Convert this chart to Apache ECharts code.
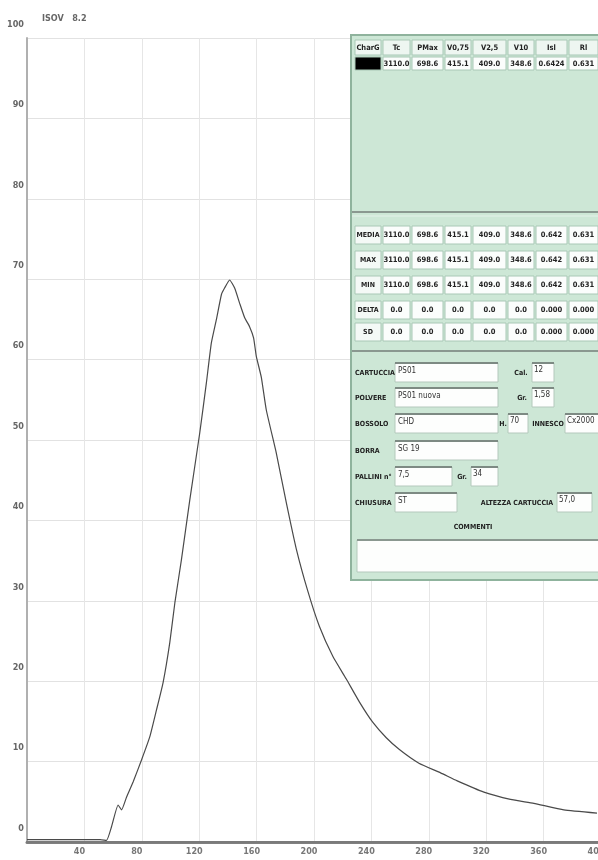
<!DOCTYPE html>
<html>
<head>
<meta charset="utf-8">
<script src="https://cdn.jsdelivr.net/npm/echarts@6/dist/echarts.min.js"></script>
<style>
  html, body { margin: 0; padding: 0; background: #fff; }
  #chart { width: 598px; height: 860px; }
</style>
</head>
<body>
<div id="chart"></div>
<script>
// pressure trace (x in axis units, y in axis units 0-100)
const timeVals = [0, 16, 37, 51, 55.4, 58.9, 63.5, 65.9, 69.4, 74.0, 79.8, 85.6, 90.2, 94.8, 99.5, 103.0, 107.6, 113.4, 120.4, 125.0, 128.5, 132.0, 135.5, 137.7, 141.2, 144.7, 148.2, 151.7, 155.1, 157.9, 159.8, 163.3, 166.8, 173.7, 180.7, 187.6, 195.7, 203.8, 213.1, 222.4, 231.7, 240.9, 250.2, 259.5, 273.1, 288.2, 299.8, 318.4, 336.9, 353.2, 374.1, 397.2];
const pressure = [0.3, 0.3, 0.3, 0.3, 0.2, 1.9, 4.6, 4.0, 5.6, 7.5, 10.2, 13.1, 16.4, 19.8, 24.8, 29.7, 35.1, 42.5, 50.9, 57.1, 62.1, 65.0, 68.1, 68.9, 69.9, 68.9, 67.0, 65.2, 64.1, 62.7, 60.4, 57.8, 53.7, 48.4, 42.2, 36.5, 31.2, 26.8, 23.1, 20.3, 17.4, 14.9, 13.0, 11.5, 9.8, 8.6, 7.6, 6.2, 5.3, 4.8, 4.0, 3.6];

const yTickLabels = ['0', '10', '20', '30', '40', '50', '60', '70', '80', '90', '100'];
const titleText = 'ISOV   8.2';

// results panel
const headers = ['CharG', 'Tc', 'PMax', 'V0,75', 'V2,5', 'V10', 'Isl', 'Rl'];
const shotRow = ['', '3110.0', '698.6', '415.1', '409.0', '348.6', '0.6424', '0.631'];
const statLabels = ['MEDIA', 'MAX', 'MIN', 'DELTA', 'SD'];
const statRows = [
  ['3110.0', '698.6', '415.1', '409.0', '348.6', '0.642', '0.631'],
  ['3110.0', '698.6', '415.1', '409.0', '348.6', '0.642', '0.631'],
  ['3110.0', '698.6', '415.1', '409.0', '348.6', '0.642', '0.631'],
  ['0.0', '0.0', '0.0', '0.0', '0.0', '0.000', '0.000'],
  ['0.0', '0.0', '0.0', '0.0', '0.0', '0.000', '0.000']
];
const formLabels = ['CARTUCCIA', 'POLVERE', 'BOSSOLO', 'BORRA', 'PALLINI n°', 'CHIUSURA'];
const formValues = ['PS01', 'PS01 nuova', 'CHD', 'SG 19', '7,5', 'ST'];
const sideLabels = ['Cal.', 'Gr.', 'H.', 'INNESCO', 'Gr.', 'ALTEZZA CARTUCCIA'];
const sideValues = ['12', '1,58', '70', 'Cx2000', '34', '57,0'];
const commentLabel = 'COMMENTI';

// layout of the panel
const FONT = '"Liberation Sans Narrow", "DejaVu Sans Condensed", sans-serif';
const colX = [355, 383, 412, 445, 473, 508, 536, 569];
const colW = [26, 27, 31, 26, 33, 26, 31, 29];
const statTop = [226, 251, 276, 301, 323];
const formRowY = [373, 398, 424, 451, 477, 503];
const formBoxW = [103, 103, 103, 103, 57, 62];
// [row, labelX, boxX, boxW]
const sideLayout = [[0, 521, 532, 22], [1, 522, 532, 22], [2, 503, 508, 20], [2, 548, 565, 35], [4, 462, 471, 27], [5, 517, 557, 35]];

function txt(x, y, s, opt) {
  opt = opt || {};
  return {
    type: 'text', z: 120,
    style: {
      x: x, y: y, text: s,
      fill: opt.fill || '#222',
      fontSize: opt.size || 8,
      fontWeight: opt.weight || 'bold',
      fontFamily: FONT,
      align: opt.align || 'center',
      verticalAlign: 'middle'
    }
  };
}
function box(x, y, w, h, fill, stroke, lw) {
  return {
    type: 'rect', z: 110,
    shape: { x: x, y: y, width: w, height: h },
    style: { fill: fill, stroke: stroke || '#a9c8b6', lineWidth: lw || 1 }
  };
}
function hline(x1, x2, y, color, w) {
  return { type: 'line', z: 115, shape: { x1: x1, y1: y, x2: x2, y2: y }, style: { stroke: color, lineWidth: w } };
}

const gfx = [];
gfx.push(txt(42, 19, titleText, { align: 'left', size: 9, fill: '#666' }));
gfx.push(box(351, 35, 250, 545, '#cde7d6', '#8fb39d', 2));

headers.forEach((h, i) => {
  gfx.push(box(colX[i], 40, colW[i], 15, '#eef6f1'));
  gfx.push(txt(colX[i] + colW[i] / 2, 48, h, { size: 7.5 }));
});
shotRow.forEach((v, i) => {
  gfx.push(box(colX[i], 57, colW[i], 13, i === 0 ? '#000' : '#fbfdfc'));
  if (v) gfx.push(txt(colX[i] + colW[i] / 2, 64, v, { size: 7.5 }));
});

gfx.push(hline(352, 600, 212, '#8a9890', 2));
gfx.push(hline(352, 600, 216, '#e4f1e9', 1));

statLabels.forEach((lab, r) => {
  const y = statTop[r];
  gfx.push(box(colX[0], y, colW[0], 18, '#f4f9f6'));
  gfx.push(txt(colX[0] + colW[0] / 2, y + 9, lab, { size: 7 }));
  statRows[r].forEach((v, i) => {
    gfx.push(box(colX[i + 1], y, colW[i + 1], 18, '#fbfdfc'));
    gfx.push(txt(colX[i + 1] + colW[i + 1] / 2, y + 9, v, { size: 7.5 }));
  });
});

gfx.push(hline(352, 600, 351, '#8a9890', 2));

formLabels.forEach((lab, r) => {
  const y = formRowY[r];
  gfx.push(txt(355, y, lab, { align: 'left', size: 7 }));
  gfx.push(box(395, y - 10, formBoxW[r], 19, '#fdfefd', '#b4c9bc'));
  gfx.push(hline(395, 395 + formBoxW[r], y - 10, '#7d8a83', 2));
  gfx.push(txt(398, y - 2, formValues[r], { align: 'left', weight: 'normal', fill: '#333' }));
});
sideLabels.forEach((lab, k) => {
  const L = sideLayout[k];
  const y = formRowY[L[0]];
  gfx.push(txt(L[1], y, lab, { size: 7 }));
  gfx.push(box(L[2], y - 10, L[3], 19, '#fdfefd', '#b4c9bc'));
  gfx.push(hline(L[2], L[2] + L[3], y - 10, '#7d8a83', 2));
  gfx.push(txt(L[2] + 2, y - 3, sideValues[k], { align: 'left', weight: 'normal', fill: '#333' }));
});

gfx.push(txt(473, 527, commentLabel, { size: 7 }));
gfx.push(box(357, 540, 244, 32, '#fdfefd', '#b4c9bc'));
gfx.push(hline(357, 600, 540, '#8a9890', 2));

const chart = echarts.init(document.getElementById('chart'), null, { renderer: 'canvas' });
chart.setOption({
  backgroundColor: '#fff',
  animation: false,
  grid: { left: 27, right: -3, top: 38, bottom: 18, outerBoundsMode: 'none' },
  xAxis: [{
    type: 'value', min: 0, max: 400, interval: 40,
    axisLine: { show: true, onZero: false, lineStyle: { color: '#808080', width: 3 } },
    axisTick: { show: false },
    axisLabel: {
      margin: 5, fontSize: 9, fontWeight: 'bold', fontFamily: FONT, color: '#777',
      padding: [0, 10, 0, 0], showMinLabel: false
    },
    splitLine: { show: true, lineStyle: { color: '#e6e6e6', width: 1 } }
  }, {
    type: 'value', position: 'top', min: 0, max: 400,
    axisLine: { show: true, lineStyle: { color: '#7a7a7a', width: 2 } },
    axisTick: { show: false }, axisLabel: { show: false }, splitLine: { show: false }
  }],
  yAxis: {
    type: 'value', min: 0, max: 100, interval: 10,
    axisLine: { show: true, onZero: false, lineStyle: { color: '#b0b0b0', width: 2 } },
    axisTick: { show: false },
    axisLabel: {
      margin: 3, fontSize: 9, fontWeight: 'bold', fontFamily: FONT, color: '#666',
      verticalAlign: 'bottom', padding: [0, 0, 9, 0],
      formatter: (v) => yTickLabels[Math.round(v / 10)]
    },
    splitLine: { show: true, lineStyle: { color: '#e2e2e2', width: 1 } }
  },
  series: [{
    type: 'line',
    data: timeVals.map((t, i) => [t, pressure[i]]),
    showSymbol: false,
    smooth: 0.15,
    lineStyle: { color: '#4a4a4a', width: 1.2 }
  }],
  graphic: gfx
});
</script>
</body>
</html>
